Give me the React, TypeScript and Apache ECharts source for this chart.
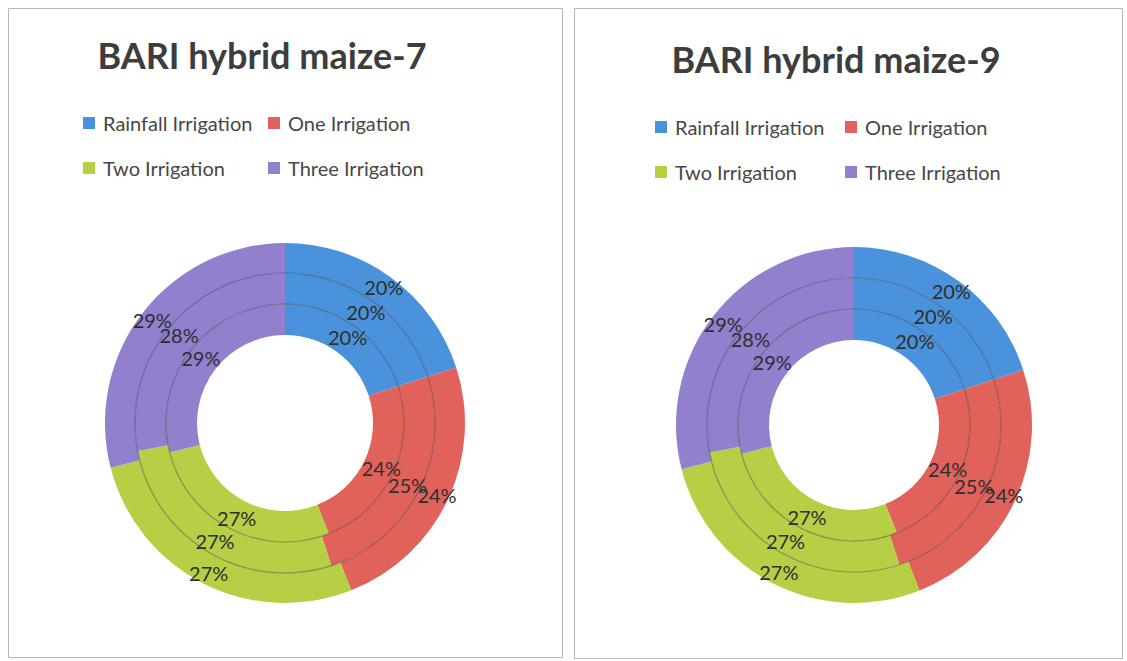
import React, { useEffect, useRef } from "react";
import * as echarts from "echarts";

const categories = ["Rainfall Irrigation", "One Irrigation", "Two Irrigation", "Three Irrigation"];
const colors = ["#4a93dc", "#e0625b", "#b6cf45", "#9280cf"];
const titles = ["BARI hybrid maize-7", "BARI hybrid maize-9"];

const maize7Inner = [20, 24, 27, 29];
const maize7Middle = [20, 25, 27, 28];
const maize7Outer = [20, 24, 27, 29];

const maize9Inner = [20, 24, 27, 29];
const maize9Middle = [20, 25, 27, 28];
const maize9Outer = [20, 24, 27, 29];

const FONT = "Lato, 'Open Sans', sans-serif";

function ringSeries(values: number[], center: number[], radius: number[]) {
  return {
    type: "pie",
    center,
    radius,
    startAngle: 90,
    clockwise: true,
    avoidLabelOverlap: false,
    silent: true,
    label: {
      show: true,
      position: "inside",
      formatter: "{c}%",
      color: "#2e2e2e",
      fontSize: 20,
      fontFamily: FONT,
    },
    labelLayout: { hideOverlap: false },
    labelLine: { show: false },
    itemStyle: { borderWidth: 0 },
    emphasis: { disabled: true },
    z: 2,
    data: categories.map((name, i) => ({ name, value: values[i], itemStyle: { color: colors[i] } })),
  };
}

function separator(center: number[], r: number) {
  return {
    type: "pie",
    center,
    radius: [r - 0.6, r + 0.6],
    silent: true,
    label: { show: false },
    labelLine: { show: false },
    emphasis: { disabled: true },
    itemStyle: { color: "rgba(60,60,60,0.45)", borderWidth: 0 },
    data: [{ name: "sep", value: 1 }],
    z: 3,
  };
}

function legendCol(names: string[], left: number, top: number) {
  return {
    orient: "vertical",
    left,
    top,
    padding: 0,
    itemWidth: 12,
    itemHeight: 12,
    itemGap: 25,
    selectedMode: false,
    data: names.map((n) => ({ name: n, icon: "rect" })),
    textStyle: { fontSize: 20, lineHeight: 20, fontFamily: FONT, color: "#474747", padding: [0, 0, 0, 3] },
  };
}

export default function App() {
  const ref = useRef<HTMLDivElement>(null);
  useEffect(() => {
    if (!ref.current) return;
    const chart = echarts.init(ref.current, null, { renderer: "svg" });
    const c1 = [285, 423];
    const c2 = [854, 425];
    const r1 = [88, 119, 150, 180];
    const r2 = [85, 116, 147, 178];
    const option: any = {
      animation: false,
      backgroundColor: "#ffffff",
      legend: [
        legendCol([categories[0], categories[2]], 83, 113),
        legendCol([categories[1], categories[3]], 268, 113),
        legendCol([categories[0], categories[2]], 655, 117),
        legendCol([categories[1], categories[3]], 845, 117),
      ],
      graphic: [
        { type: "rect", shape: { x: 8.5, y: 8.5, width: 554, height: 649 }, style: { fill: "none", stroke: "#b8b8b8", lineWidth: 1 } },
        { type: "rect", shape: { x: 574.5, y: 8.5, width: 548, height: 650 }, style: { fill: "none", stroke: "#b8b8b8", lineWidth: 1 } },
        { type: "text", x: 262, y: 55, style: { text: titles[0], textAlign: "center", textVerticalAlign: "middle", font: `bold 36px ${FONT}`, fill: "#3d3d3d" } },
        { type: "text", x: 836, y: 59, style: { text: titles[1], textAlign: "center", textVerticalAlign: "middle", font: `bold 36px ${FONT}`, fill: "#3d3d3d" } },
      ],
      series: [
        separator(c1, r1[1]),
        separator(c1, r1[2]),
        ringSeries(maize7Inner, c1, [r1[0], r1[1]]),
        ringSeries(maize7Middle, c1, [r1[1], r1[2]]),
        ringSeries(maize7Outer, c1, [r1[2], r1[3]]),
        separator(c2, r2[1]),
        separator(c2, r2[2]),
        ringSeries(maize9Inner, c2, [r2[0], r2[1]]),
        ringSeries(maize9Middle, c2, [r2[1], r2[2]]),
        ringSeries(maize9Outer, c2, [r2[2], r2[3]]),
      ],
    };
    chart.setOption(option);
    return () => chart.dispose();
  }, []);
  return <div ref={ref} style={{ position: "absolute", left: 0, top: 0, width: 1127, height: 661 }} />;
}
